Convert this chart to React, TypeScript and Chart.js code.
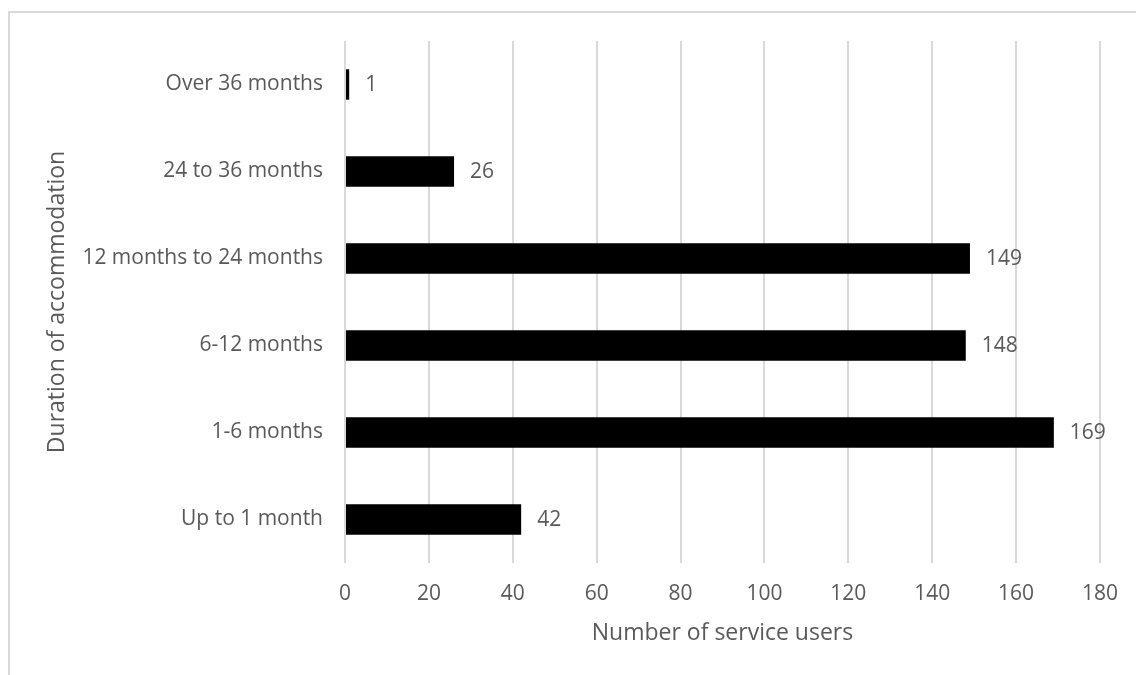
import React, { useEffect, useRef } from "react";
import { Chart, registerables } from "chart.js";

Chart.register(...registerables);

const categories = [
  "Over 36 months",
  "24 to 36 months",
  "12 months to 24 months",
  "6-12 months",
  "1-6 months",
  "Up to 1 month",
];
const serviceUsers = [1, 26, 149, 148, 169, 42];
const xTicks = [0, 20, 40, 60, 80, 100, 120, 140, 160, 180];

const FONT = "'Open Sans', 'Noto Sans', sans-serif";
const TEXT = "#595959";
const GRID = "#d9d9d9";

const frame = {
  id: "frame",
  beforeDraw(chart: any) {
    const ctx = chart.ctx;
    ctx.save();
    ctx.fillStyle = "#ffffff";
    ctx.fillRect(0, 0, chart.width, chart.height);
    ctx.strokeStyle = GRID;
    ctx.lineWidth = 2;
    ctx.strokeRect(9, 12, chart.width + 50, chart.height + 50);
    ctx.restore();
  },
};

const valueLabels = {
  id: "valueLabels",
  afterDatasetsDraw(chart: any) {
    const ctx = chart.ctx;
    const meta = chart.getDatasetMeta(0);
    ctx.save();
    ctx.font = `21px ${FONT}`;
    ctx.fillStyle = TEXT;
    ctx.textAlign = "left";
    ctx.textBaseline = "middle";
    meta.data.forEach((bar: any, i: number) => {
      const v = chart.data.datasets[0].data[i];
      ctx.fillText(String(v), bar.x + 16, bar.y + 1);
    });
    ctx.restore();
  },
};

export default function App() {
  const ref = useRef<HTMLCanvasElement | null>(null);
  useEffect(() => {
    if (!ref.current) return;
    const chart = new Chart(ref.current, {
      type: "bar",
      data: {
        labels: categories,
        datasets: [
          {
            data: serviceUsers,
            backgroundColor: "#000000",
            borderWidth: 0,
            categoryPercentage: 1,
            barPercentage: 0.35,
          },
        ],
      },
      options: {
        indexAxis: "y",
        responsive: false,
        animation: false,
        layout: { padding: { left: 0, top: 41, right: 36, bottom: 0 } },
        plugins: {
          legend: { display: false },
          tooltip: { enabled: false },
        },
        scales: {
          x: {
            min: 0,
            max: 180,
            afterBuildTicks: (scale: any) => {
              scale.ticks = xTicks.map((v) => ({ value: v }));
            },
            afterFit: (scale: any) => {
              scale.height = 112;
            },
            grid: { color: GRID, lineWidth: 2, drawTicks: false },
            border: { display: false },
            ticks: {
              color: TEXT,
              font: { family: FONT, size: 21 },
              padding: 18,
            },
            title: {
              display: true,
              text: "Number of service users",
              color: TEXT,
              font: { family: FONT, size: 23 },
              padding: { top: 0, bottom: 28 },
            },
          },
          y: {
            afterFit: (scale: any) => {
              scale.width = 345;
            },
            grid: { display: false, drawTicks: false },
            border: { display: false },
            ticks: {
              color: TEXT,
              font: { family: FONT, size: 21 },
              padding: 22,
            },
            title: {
              display: true,
              text: "Duration of accommodation",
              color: TEXT,
              font: { family: FONT, size: 23 },
              padding: { top: 44, bottom: 0 },
            },
          },
        },
      },
      plugins: [frame, valueLabels],
    });
    return () => chart.destroy();
  }, []);
  return (
    <div style={{ position: "absolute", left: 0, top: 0, width: 1136, height: 675 }}>
      <canvas ref={ref} width={1136} height={675} />
    </div>
  );
}
